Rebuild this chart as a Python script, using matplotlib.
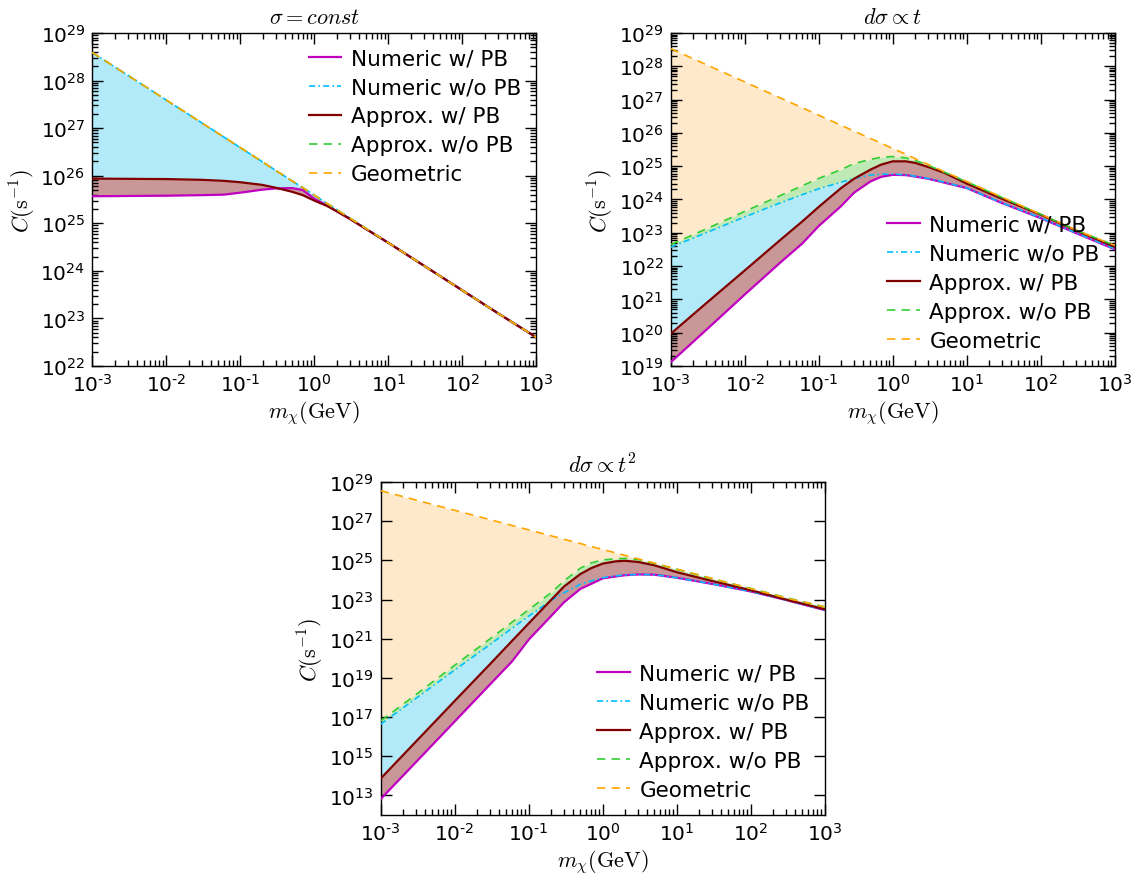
import math

import matplotlib
matplotlib.use("Agg")
import matplotlib.pyplot as plt
from matplotlib.ticker import FixedLocator, FuncFormatter, LogLocator, NullFormatter, NullLocator

plt.rcParams["mathtext.fontset"] = "cm"
plt.rcParams["font.family"] = ["DejaVu Sans"]
plt.rcParams["lines.scale_dashes"] = False

# dark matter mass grid (GeV)
mass = [1e-3, 3e-3, 1e-2, 3e-2, 6e-2, 0.1, 0.2, 0.3, 0.5, 0.7,
        1.0, 1.5, 2.0, 3.0, 5.0, 10.0, 30.0, 100.0, 300.0, 1000.0]

# sigma = const
const_num_pb = [3.7e25, 3.75e25, 3.8e25, 3.9e25, 4.0e25, 4.4e25, 5.1e25, 5.4e25, 5.5e25, 5.0e25,
                3.3e25, 2.35e25, 1.8e25, 1.25e25, 7.6e24, 3.9e24, 1.3e24, 3.9e23, 1.3e23, 4.0e22]
const_num_nopb = [3.9e28, 1.3e28, 3.9e27, 1.3e27, 6.5e26, 3.9e26, 1.95e26, 1.3e26, 7.8e25, 5.6e25,
                  3.9e25, 2.6e25, 1.95e25, 1.3e25, 7.8e24, 3.9e24, 1.3e24, 3.9e23, 1.3e23, 4.0e22]
const_app_pb = [8.7e25, 8.6e25, 8.5e25, 8.2e25, 7.8e25, 7.3e25, 6.4e25, 5.6e25, 4.6e25, 3.9e25,
                3.0e25, 2.3e25, 1.8e25, 1.25e25, 7.6e24, 3.9e24, 1.3e24, 3.9e23, 1.3e23, 4.0e22]
const_app_nopb = [3.9e28, 1.3e28, 3.9e27, 1.3e27, 6.5e26, 3.9e26, 1.95e26, 1.3e26, 7.8e25, 5.6e25,
                  3.9e25, 2.6e25, 1.95e25, 1.3e25, 7.8e24, 3.9e24, 1.3e24, 3.9e23, 1.3e23, 4.0e22]
const_geo = [3.9e28, 1.3e28, 3.9e27, 1.3e27, 6.5e26, 3.9e26, 1.95e26, 1.3e26, 7.8e25, 5.6e25,
             3.9e25, 2.6e25, 1.95e25, 1.3e25, 7.8e24, 3.9e24, 1.3e24, 3.9e23, 1.3e23, 4.0e22]

# dsigma ~ t
t1_num_pb = [1.3e19, 1.2e20, 1.4e21, 1.26e22, 4.8e22, 1.6e23, 6.3e23, 1.6e24, 3.5e24, 4.8e24,
             5.5e24, 5.4e24, 4.9e24, 4.2e24, 3.2e24, 2.2e24, 7.8e23, 2.75e23, 9.8e22, 3.2e22]
t1_num_nopb = [3.7e22, 1.0e23, 3.0e23, 7.9e23, 1.4e24, 2.1e24, 3.3e24, 4.3e24, 5.4e24, 5.8e24,
               5.8e24, 5.5e24, 5.0e24, 4.3e24, 3.3e24, 2.2e24, 7.9e23, 2.8e23, 1.0e23, 3.3e22]
t1_app_pb = [9.3e19, 7.6e20, 7.4e21, 6.0e22, 2.2e23, 6.0e23, 2.2e24, 4.2e24, 7.9e24, 1.12e25,
             1.4e25, 1.4e25, 1.26e25, 9.5e24, 6.3e24, 3.0e24, 1.05e24, 3.5e23, 1.17e23, 3.8e22]
t1_app_nopb = [4.4e22, 1.3e23, 4.4e23, 1.3e24, 2.6e24, 4.3e24, 7.9e24, 1.2e25, 1.6e25, 1.86e25,
               1.95e25, 1.78e25, 1.5e25, 1.07e25, 6.6e24, 3.4e24, 1.15e24, 3.6e23, 1.2e23, 4.2e22]
t1_geo = [3.4e28, 1.13e28, 3.4e27, 1.13e27, 5.7e26, 3.4e26, 1.7e26, 1.13e26, 6.8e25, 4.9e25,
          3.4e25, 2.3e25, 1.7e25, 1.13e25, 6.8e24, 3.5e24, 1.17e24, 3.6e23, 1.2e23, 4.2e22]

# dsigma ~ t^2
t2_num_pb = [6.5e12, 5.0e14, 5.9e16, 4.6e18, 7.1e19, 8.9e20, 1.4e22, 7.2e22, 3.5e23, 6.3e23,
             1.2e24, 1.5e24, 1.74e24, 1.9e24, 1.86e24, 1.3e24, 6.3e23, 2.6e23, 9.5e22, 2.9e22]
t2_num_nopb = [4.3e16, 8.9e17, 2.5e19, 5.0e20, 3.5e21, 1.4e22, 8.9e22, 2.2e23, 6.0e23, 8.9e23,
               1.3e24, 1.6e24, 1.8e24, 1.9e24, 1.86e24, 1.3e24, 6.3e23, 2.6e23, 9.5e22, 2.9e22]
t2_app_pb = [7.2e13, 5.6e15, 6.6e17, 5.0e19, 7.9e20, 6.0e21, 9.3e22, 4.6e23, 2.0e24, 4.0e24,
             6.8e24, 8.9e24, 9.5e24, 8.3e24, 5.6e24, 2.5e24, 8.9e23, 3.0e23, 1.0e23, 3.2e22]
t2_app_nopb = [6.3e16, 1.4e18, 4.4e19, 9.8e20, 7.1e21, 3.0e22, 2.2e23, 8.9e23, 4.0e24, 7.4e24,
               1.05e25, 1.2e25, 1.26e25, 1.12e25, 6.9e24, 3.5e24, 1.17e24, 3.7e23, 1.26e23, 4.2e22]
t2_geo = [3.6e28, 1.2e28, 3.6e27, 1.2e27, 6.0e26, 3.6e26, 1.8e26, 1.2e26, 7.2e25, 5.1e25,
          3.6e25, 2.4e25, 1.8e25, 1.2e25, 7.2e24, 3.6e24, 1.2e24, 3.6e23, 1.2e23, 4.2e22]

titles = [r"$\sigma = const$", r"$d\sigma \propto t$", r"$d\sigma \propto t^2$"]
labels = ["Numeric w/ PB", "Numeric w/o PB", "Approx. w/ PB", "Approx. w/o PB", "Geometric"]


def pow_label(value, pos):
    exp = int(round(math.log10(value)))
    sign = "\u2010" if exp < 0 else ""
    return r"$\mathdefault{10^{%s%d}}$" % (sign, abs(exp))


def decades(lo, hi, step=1):
    return [10.0 ** k for k in range(lo, hi + 1, step)]


def minor_ticks(lo, hi):
    return [s * 10.0 ** k for k in range(lo, hi) for s in range(2, 10)]


def draw_panel(ax, series, title, ylim, legend_loc):
    num_pb, num_nopb, app_pb, app_nopb, geo = series
    ax.fill_between(mass, geo, app_nopb, color="#feeacb", lw=0, zorder=1)
    ax.fill_between(mass, app_nopb, num_nopb, color="#bfeab5", lw=0, zorder=1)
    ax.fill_between(mass, num_nopb, app_pb, color="#b3eafa", lw=0, zorder=1)
    ax.fill_between(mass, app_pb, num_pb, color="#c99797", lw=0, zorder=1)

    ax.plot(mass, num_pb, color="#c000c0", lw=1.6, label=labels[0], zorder=3)
    ax.plot(mass, num_nopb, color="#00bfff", lw=1.2, ls="-.", dashes=(4.5, 2.2, 1.2, 2.2),
            label=labels[1], zorder=3)
    ax.plot(mass, app_pb, color="#800000", lw=1.6, label=labels[2], zorder=3)
    ax.plot(mass, app_nopb, color="#32cd32", lw=1.2, ls="--", dashes=(6, 4.5),
            label=labels[3], zorder=3)
    ax.plot(mass, geo, color="orange", lw=1.2, ls="--", dashes=(6, 4.5),
            label=labels[4], zorder=3)

    ax.set_xscale("log")
    ax.set_yscale("log")
    ax.set_xlim(1e-3, 1e3)
    ax.set_ylim(*ylim)
    ax.set_title(title, fontsize=16, pad=7)
    ax.set_xlabel(r"$m_\chi(\mathrm{GeV})$", fontsize=16, labelpad=2)
    ax.set_ylabel(r"$C(\mathrm{s}^{-1})$", fontsize=16, labelpad=2)

    ax.xaxis.set_major_locator(FixedLocator(decades(-3, 3)))
    ax.xaxis.set_minor_locator(FixedLocator(minor_ticks(-3, 3)))
    ax.xaxis.set_major_formatter(FuncFormatter(pow_label))
    ax.xaxis.set_minor_formatter(NullFormatter())
    ax.yaxis.set_major_formatter(FuncFormatter(pow_label))
    ax.yaxis.set_minor_formatter(NullFormatter())
    ax.tick_params(which="both", direction="in", top=True, right=True, width=1)
    ax.tick_params(which="major", length=8, labelsize=14.5, pad=5)
    ax.tick_params(which="minor", length=4)
    for spine in ax.spines.values():
        spine.set_linewidth(1.0)

    ax.legend(loc=legend_loc, frameon=False, fontsize=15.5, handlelength=1.5,
              handletextpad=0.45, labelspacing=0.42, borderaxespad=0.3)


fig = plt.figure(figsize=(11.39, 8.79), dpi=100)
ax1 = fig.add_axes([0.0810, 0.5825, 0.3898, 0.3788])
ax2 = fig.add_axes([0.5889, 0.5825, 0.3898, 0.3788])
ax3 = fig.add_axes([0.3342, 0.0717, 0.3898, 0.3788])

draw_panel(ax1, [const_num_pb, const_num_nopb, const_app_pb, const_app_nopb, const_geo],
           titles[0], (1e22, 1e29), "upper right")
ax1.yaxis.set_major_locator(FixedLocator(decades(22, 29)))
ax1.yaxis.set_minor_locator(FixedLocator(minor_ticks(22, 29)))

draw_panel(ax2, [t1_num_pb, t1_num_nopb, t1_app_pb, t1_app_nopb, t1_geo],
           titles[1], (1e19, 1e29), "lower right")
ax2.yaxis.set_major_locator(FixedLocator(decades(19, 29)))
ax2.yaxis.set_minor_locator(FixedLocator(minor_ticks(19, 29)))

draw_panel(ax3, [t2_num_pb, t2_num_nopb, t2_app_pb, t2_app_nopb, t2_geo],
           titles[2], (1e12, 1e29), "lower right")
ax3.yaxis.set_major_locator(FixedLocator(decades(13, 29, 2)))
ax3.yaxis.set_minor_locator(NullLocator())

fig.savefig("out.png", dpi=100)
